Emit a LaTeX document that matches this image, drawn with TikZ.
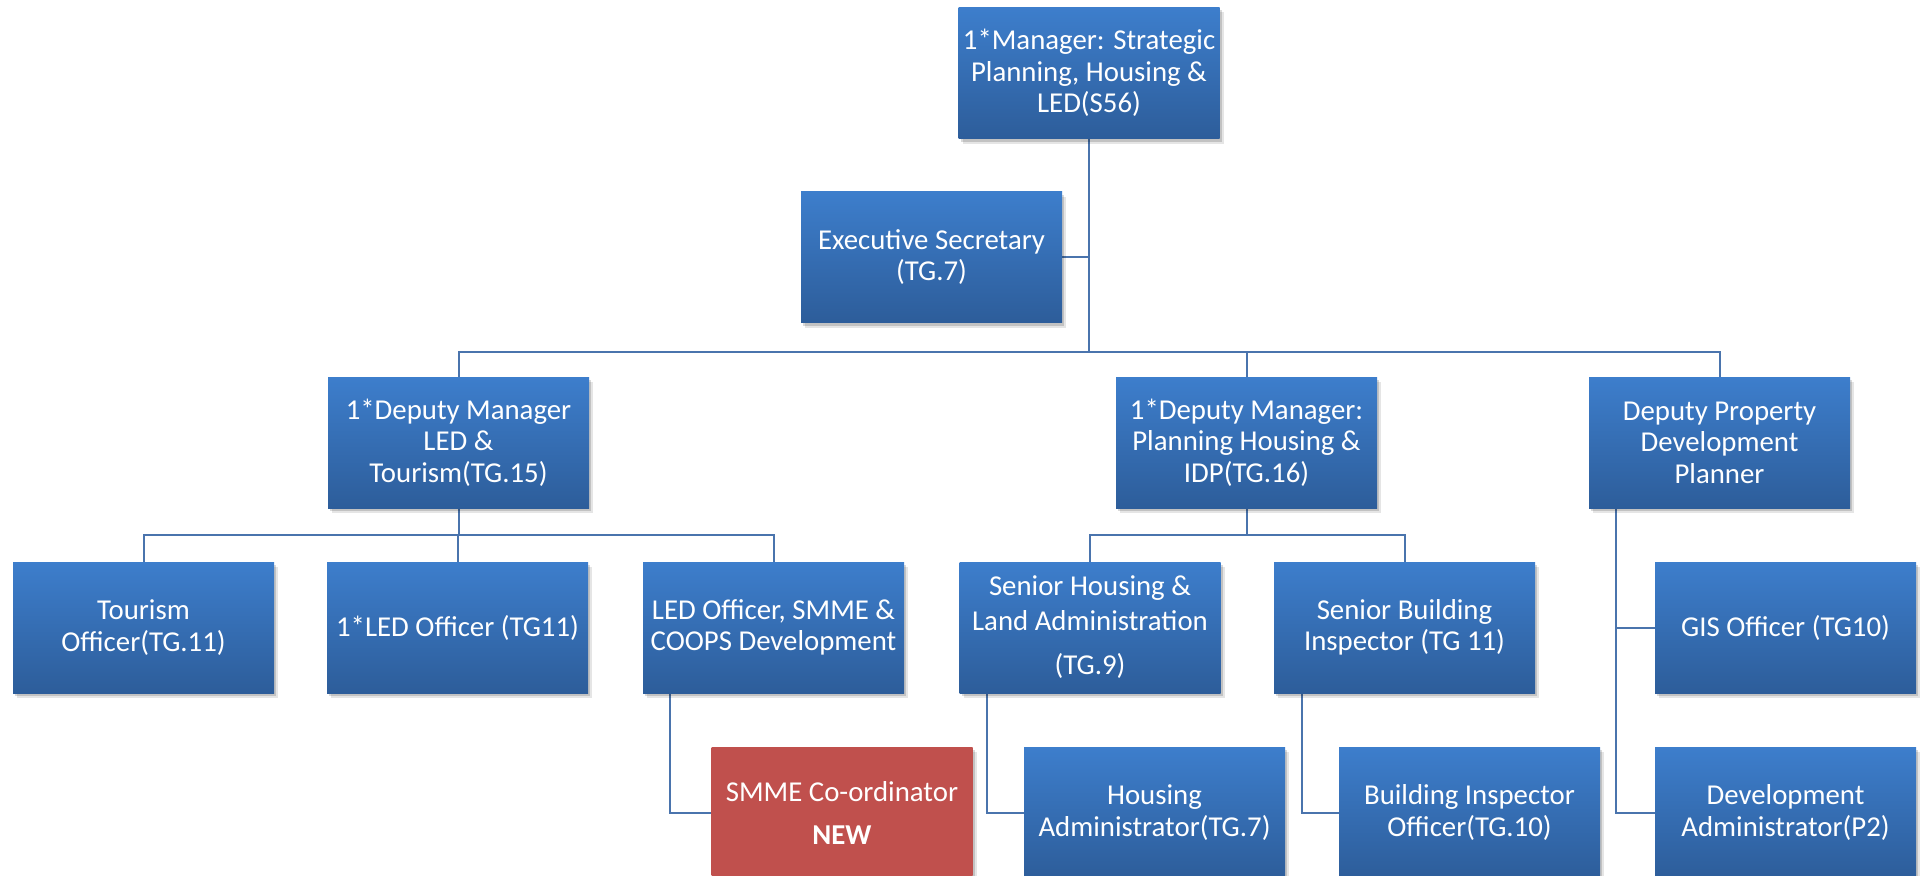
\documentclass[tikz,border=0pt]{standalone}
\usepackage{fontspec}
\setmainfont{Carlito}
\usetikzlibrary{shadows,backgrounds}
\definecolor{boxtop}{HTML}{3D7ECC}
\definecolor{boxbot}{HTML}{2D5D9A}
\definecolor{newred}{HTML}{C0504D}
\definecolor{conncol}{HTML}{4A74AD}
\tikzset{
  orgbox/.style={rectangle, minimum width=261pt, minimum height=131pt, inner sep=0pt,
    top color=boxtop, bottom color=boxbot, text=white, align=center,
    font=\fontsize{28.8}{31.5}\selectfont,
    drop shadow={shadow xshift=4pt, shadow yshift=-5pt, opacity=0.10, fill=black},
    drop shadow={shadow xshift=2pt, shadow yshift=-3pt, opacity=0.15, fill=black}},
  redbox/.style={orgbox, top color=newred, bottom color=newred},
  conn/.style={draw=conncol, line width=2pt}
}
\begin{document}
\begin{tikzpicture}[x=1pt,y=-1pt]
\useasboundingbox (0,0) rectangle (1921,875);
\begin{scope}[on background layer]
\fill[white] (0,0) rectangle (1921,875);
\end{scope}
% level 1
\node[orgbox] (mgr) at (1089,73) {1*Manager: Strategic\\Planning, Housing \&\\LED(S56)};
\node[orgbox] (exec) at (931.5,257) {Executive Secretary\\(TG.7)};
% level 2
\node[orgbox] (dled) at (458.5,442.5) {1*Deputy Manager\\LED \&\\Tourism(TG.15)};
\node[orgbox] (dplan) at (1246.5,442.5) {1*Deputy Manager:\\Planning Housing \&\\IDP(TG.16)};
\node[orgbox] (dprop) at (1719.5,442.5) {Deputy Property\\Development\\Planner};
% level 3
\node[orgbox] (tour) at (143.5,627.5) {Tourism\\Officer(TG.11)};
\node[orgbox] (ledo) at (457.5,627.5) {1*LED Officer (TG11)};
\node[orgbox] (smmedev) at (773.5,627.5) {LED Officer, SMME \&\\COOPS Development};
\node[orgbox] (shous) at (1090,627.5) {Senior Housing \&\\[3pt]Land Administration\\[13pt](TG.9)};
\node[orgbox] (sbuild) at (1404.5,627.5) {Senior Building\\Inspector (TG 11)};
\node[orgbox] (gis) at (1785.5,627.5) {GIS Officer (TG10)};
% level 4
\node[redbox] (smme) at (842,812.5) {SMME Co-ordinator\\[11.5pt]\textbf{NEW}};
\node[orgbox] (hadmin) at (1154.5,812.5) {Housing\\Administrator(TG.7)};
\node[orgbox] (binsp) at (1469.5,812.5) {Building Inspector\\Officer(TG.10)};
\node[orgbox] (devadm) at (1785.5,812.5) {Development\\Administrator(P2)};
% connectors
\coordinate (b1) at (1089,352);
\coordinate (b2) at (458.5,535);
\coordinate (b3) at (1246.5,535);
\begin{scope}[on background layer]
\draw[conn] (mgr.south) -- (b1);
\draw[conn] (exec.east) -- (exec.east -| b1);
\draw[conn] (b1) -| (dled.north);
\draw[conn] (b1) -| (dplan.north);
\draw[conn] (b1) -| (dprop.north);
\draw[conn] (dled.south) -- (b2);
\draw[conn] (b2) -| (tour.north);
\draw[conn] (b2) -| (ledo.north);
\draw[conn] (b2) -| (smmedev.north);
\draw[conn] (dplan.south) -- (b3);
\draw[conn] (b3) -| (shous.north);
\draw[conn] (b3) -| (sbuild.north);
\draw[conn] ([xshift=27pt]smmedev.south west) |- (smme.west);
\draw[conn] ([xshift=28pt]shous.south west) |- (hadmin.west);
\draw[conn] ([xshift=28pt]sbuild.south west) |- (binsp.west);
\draw[conn] ([xshift=27pt]dprop.south west) |- (gis.west);
\draw[conn] ([xshift=27pt]dprop.south west) |- (devadm.west);
\end{scope}
\end{tikzpicture}
\end{document}
